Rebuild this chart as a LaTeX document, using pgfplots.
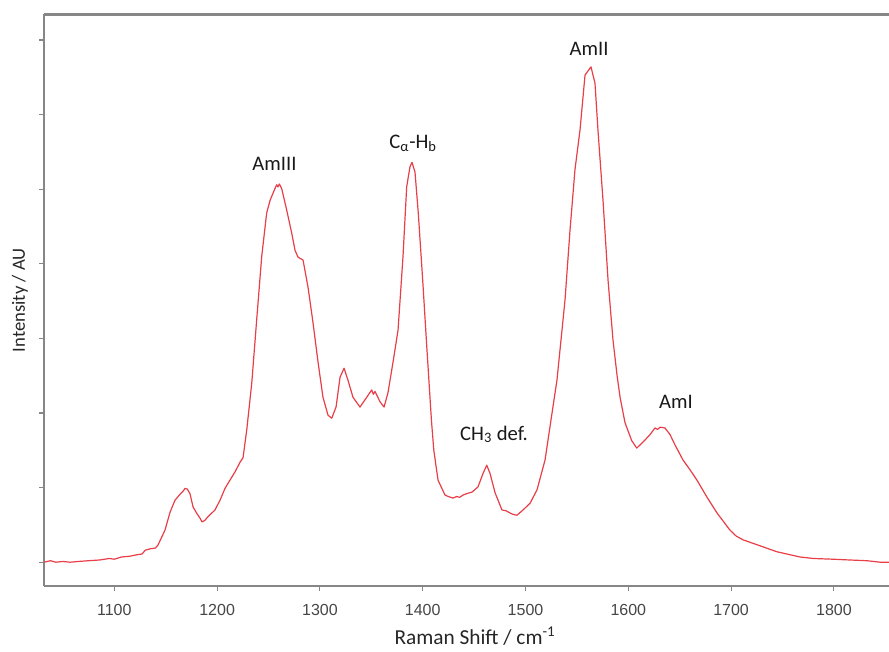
\documentclass[border=0pt]{standalone}
\usepackage{fontspec}
\setmainfont{Carlito}
\newfontfamily\ticfont{Liberation Sans}
\usepackage{pgfplots}
\pgfplotsset{compat=1.18}
\definecolor{axgray}{RGB}{134,134,134}
\definecolor{ticktext}{RGB}{70,70,70}
\definecolor{curve}{RGB}{232,62,72}
\pgfplotstableread{
x y
1031.6 0.00
1038 0.02
1043 0.00
1050 0.01
1057 0.00
1065 0.01
1075 0.02
1086 0.03
1095 0.05
1100 0.04
1107 0.07
1115 0.08
1122 0.10
1127 0.11
1130 0.16
1135 0.18
1140 0.19
1142.5 0.23
1149.3 0.43
1154.2 0.67
1159.0 0.83
1163.9 0.91
1166.8 0.95
1168.8 0.99
1171 0.98
1173.6 0.92
1176.6 0.74
1180 0.66
1183.4 0.59
1185.3 0.54
1188 0.56
1191.1 0.61
1197.9 0.70
1202.8 0.83
1207.7 0.99
1212.5 1.10
1217.4 1.21
1222.3 1.34
1225.2 1.40
1228.8 1.77
1233.7 2.40
1238.5 3.25
1243.4 4.10
1248.2 4.68
1251.5 4.85
1256.3 5.01
1258.0 5.06
1259.2 5.03
1260.5 5.07
1262.8 5.01
1267.7 4.72
1272.6 4.41
1275.8 4.18
1278.7 4.09
1283.6 4.05
1288.4 3.69
1293.3 3.21
1298.2 2.68
1303.0 2.21
1307.9 1.97
1311.5 1.93
1315.7 2.08
1319.6 2.48
1323.5 2.60
1327.3 2.44
1332.2 2.21
1339.0 2.08
1345.5 2.21
1350.4 2.31
1352 2.25
1353.6 2.29
1358.5 2.15
1362.4 2.08
1366.2 2.27
1371.1 2.68
1376.0 3.11
1380.8 4.09
1384.4 5.03
1387.6 5.30
1389.6 5.36
1392.5 5.23
1395.7 4.68
1400.0 3.78
1404.0 2.88
1408.5 1.90
1410.8 1.50
1414.9 1.10
1421.7 0.90
1425 0.88
1429.5 0.86
1433 0.88
1436 0.87
1439.2 0.90
1443 0.92
1448.0 0.94
1453.8 1.01
1458.7 1.19
1462.3 1.30
1465.5 1.19
1470.4 0.93
1477.1 0.70
1481 0.69
1484.9 0.66
1488 0.64
1491.7 0.63
1497.6 0.70
1504.4 0.79
1511.2 0.97
1519.0 1.37
1525.8 2.00
1530.6 2.44
1538.4 3.51
1543.3 4.45
1548.1 5.26
1553.0 5.79
1557.9 6.53
1563.7 6.64
1567.6 6.42
1570.5 5.79
1575.4 4.85
1580.3 3.78
1585.1 2.98
1589.0 2.51
1592.0 2.21
1596.8 1.87
1603.3 1.63
1608.2 1.53
1614.3 1.61
1621.1 1.71
1626.0 1.80
1628.5 1.78
1630.9 1.81
1635.7 1.80
1640.6 1.71
1645.5 1.57
1653.2 1.37
1660.0 1.24
1666.8 1.10
1676.6 0.87
1686.3 0.66
1698.9 0.43
1705 0.35
1711.6 0.30
1728.1 0.22
1744.6 0.14
1767.0 0.07
1780 0.05
1799.1 0.04
1815 0.03
1832.2 0.02
1845 0.00
1853.6 0.00
}\spectrum
\begin{document}
\begin{tikzpicture}
\path[use as bounding box] (0,0) rectangle (666.75pt,488.25pt);
\begin{axis}[
  at={(33pt,48.75pt)}, anchor=south west,
  scale only axis, width=633.75pt, height=428.625pt,
  xmin=1031.6, xmax=1853.6, ymin=-0.319, ymax=7.342,
  axis x line*=box, axis y line*=left,
  xtick pos=bottom, ytick pos=left,
  axis line style={axgray, line width=1.8pt},
  tick align=outside, major tick length=3.75pt,
  tick style={axgray, line width=0.8pt},
  xtick={1100,1200,...,1800},
  ytick={0,1,...,7}, yticklabels={},
  /pgf/number format/assume math mode=true,
  /pgf/number format/1000 sep={},
  xticklabel style={font=\ticfont\fontsize{12}{14}\selectfont, text=ticktext, anchor=base, yshift=-18pt},
  every axis x label/.style={at={(axis description cs:0.51,-0.1032)}, anchor=base, font=\fontsize{16}{19}\selectfont, text=black!85},
  every axis y label/.style={at={(axis description cs:-0.0225,0.5)}, rotate=90, anchor=base, font=\fontsize{14}{17}\selectfont, text=black!85},
  xlabel={Raman Shift / cm\textsuperscript{-1}},
  ylabel={Intensity / AU},
  clip=false,
]
\addplot[curve, line width=0.9pt, line join=round] table[x=x,y=y] {\spectrum};
\begin{scope}[every node/.style={anchor=base, font=\fontsize{15.5}{18}\selectfont, text=black!90}]
\node at (axis cs:1255.8,5.257) {AmIII};
\node at (axis cs:1390.6,5.548) {C\textsubscript{α}-H\textsubscript{b}};
\node at (axis cs:1561.8,6.799) {AmII};
\node at (axis cs:1469.4,1.638) {CH\textsubscript{3} def.};
\node at (axis cs:1646.4,2.054) {AmI};
\end{scope}
\end{axis}
\end{tikzpicture}
\end{document}
